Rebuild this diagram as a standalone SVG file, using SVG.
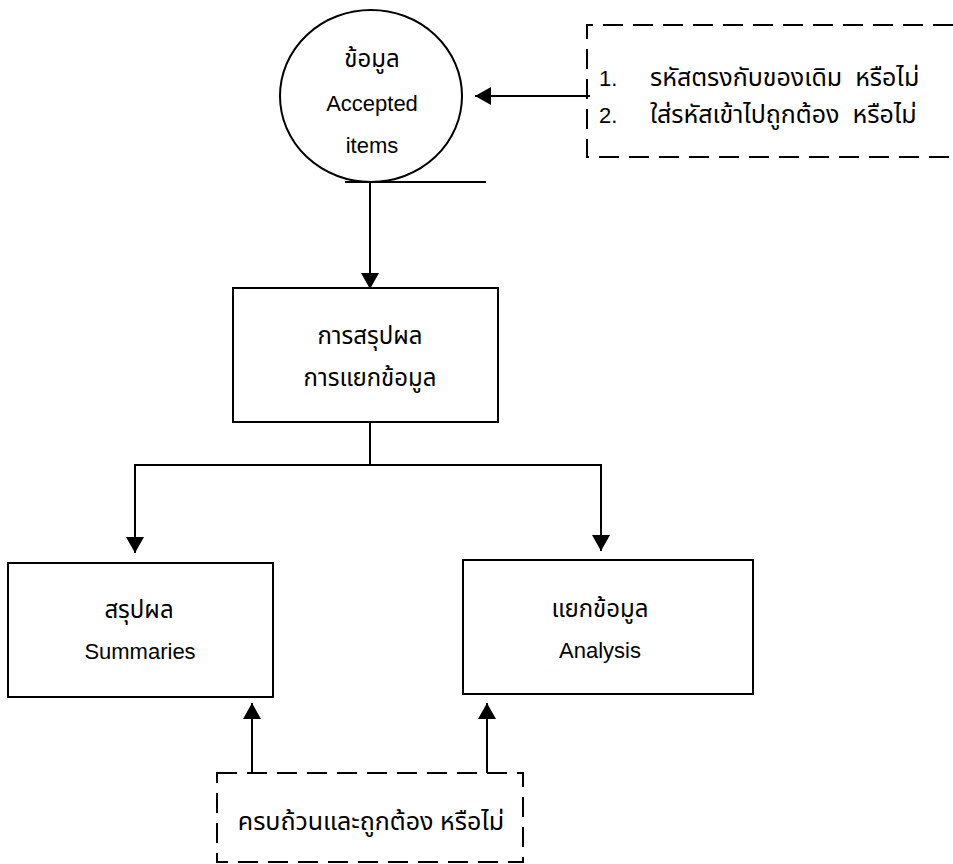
<svg xmlns="http://www.w3.org/2000/svg" width="953" height="864" viewBox="0 0 953 864">
  <style>
    .shape { fill: #fff; stroke: #000; stroke-width: 2; }
    .dash { fill: none; stroke: #000; stroke-width: 2; stroke-dasharray: 20 10; }
    .line { fill: none; stroke: #000; stroke-width: 2; }
    .th { font-family: "Noto Sans Thai", "Noto Sans", "DejaVu Sans", sans-serif; font-size: 24px; fill: #000; }
    .note { font-size: 25px; white-space: pre; }
    .en { font-family: "Liberation Sans", Arial, sans-serif; font-size: 22px; fill: #000; }
  </style>
  <defs>
    <marker id="arrow" viewBox="0 0 16 18" refX="16" refY="9" markerWidth="16" markerHeight="18" markerUnits="userSpaceOnUse" orient="auto">
      <path d="M0,0 L16,9 L0,18 Z" fill="#000"/>
    </marker>
  </defs>
  <rect width="953" height="864" fill="#fff"/>

  <g id="connectors">
    <!-- checks feeding the accepted items -->
    <line class="line" x1="590" y1="96" x2="475" y2="96" marker-end="url(#arrow)"/>
    <!-- ledge under the data store -->
    <line class="line" x1="345" y1="182" x2="486" y2="182"/>
    <line class="line" x1="370" y1="182" x2="370" y2="289" marker-end="url(#arrow)"/>
    <!-- split to summaries and analysis -->
    <line class="line" x1="370" y1="422" x2="370" y2="465"/>
    <polyline class="line" points="135,540 135,465 601,465 601,540"/>
    <line class="line" x1="135" y1="530" x2="135" y2="553" marker-end="url(#arrow)"/>
    <line class="line" x1="601" y1="530" x2="601" y2="551" marker-end="url(#arrow)"/>
    <!-- completeness check -->
    <line class="line" x1="252" y1="773" x2="252" y2="703" marker-end="url(#arrow)"/>
    <line class="line" x1="487" y1="773" x2="487" y2="703" marker-end="url(#arrow)"/>
  </g>

  <g id="accepted-items">
    <ellipse class="shape" cx="371" cy="96" rx="91" ry="86"/>
    <text class="th" x="372" y="67" text-anchor="middle">ข้อมูล</text>
    <text class="en" x="372" y="111" text-anchor="middle">Accepted</text>
    <text class="en" x="372" y="153" text-anchor="middle">items</text>
  </g>

  <g id="code-checks">
    <polyline class="dash" points="953,25 587,25 587,157 953,157"/>
    <text class="en" x="599" y="86">1.</text>
    <text class="th note" x="650" y="86">รหัสตรงกับของเดิม  หรือไม่</text>
    <text class="en" x="599" y="123">2.</text>
    <text class="th note" x="650" y="123">ใส่รหัสเข้าไปถูกต้อง  หรือไม่</text>
  </g>

  <g id="summarize-analyze">
    <rect class="shape" x="233" y="288" width="265" height="134"/>
    <text class="th" x="370" y="344" text-anchor="middle">การสรุปผล</text>
    <text class="th" x="370" y="386" text-anchor="middle">การแยกข้อมูล</text>
  </g>

  <g id="summaries">
    <rect class="shape" x="8" y="563" width="265" height="134"/>
    <text class="th" x="139" y="618" text-anchor="middle">สรุปผล</text>
    <text class="en" x="140" y="659" text-anchor="middle">Summaries</text>
  </g>

  <g id="analysis">
    <rect class="shape" x="463" y="560" width="290" height="134"/>
    <text class="th" x="600" y="617" text-anchor="middle">แยกข้อมูล</text>
    <text class="en" x="600" y="658" text-anchor="middle">Analysis</text>
  </g>

  <g id="completeness-check">
    <rect class="dash" x="217" y="773" width="306" height="89"/>
    <text class="th note" x="371" y="830" text-anchor="middle">ครบถ้วนและถูกต้อง หรือไม่</text>
  </g>
</svg>
